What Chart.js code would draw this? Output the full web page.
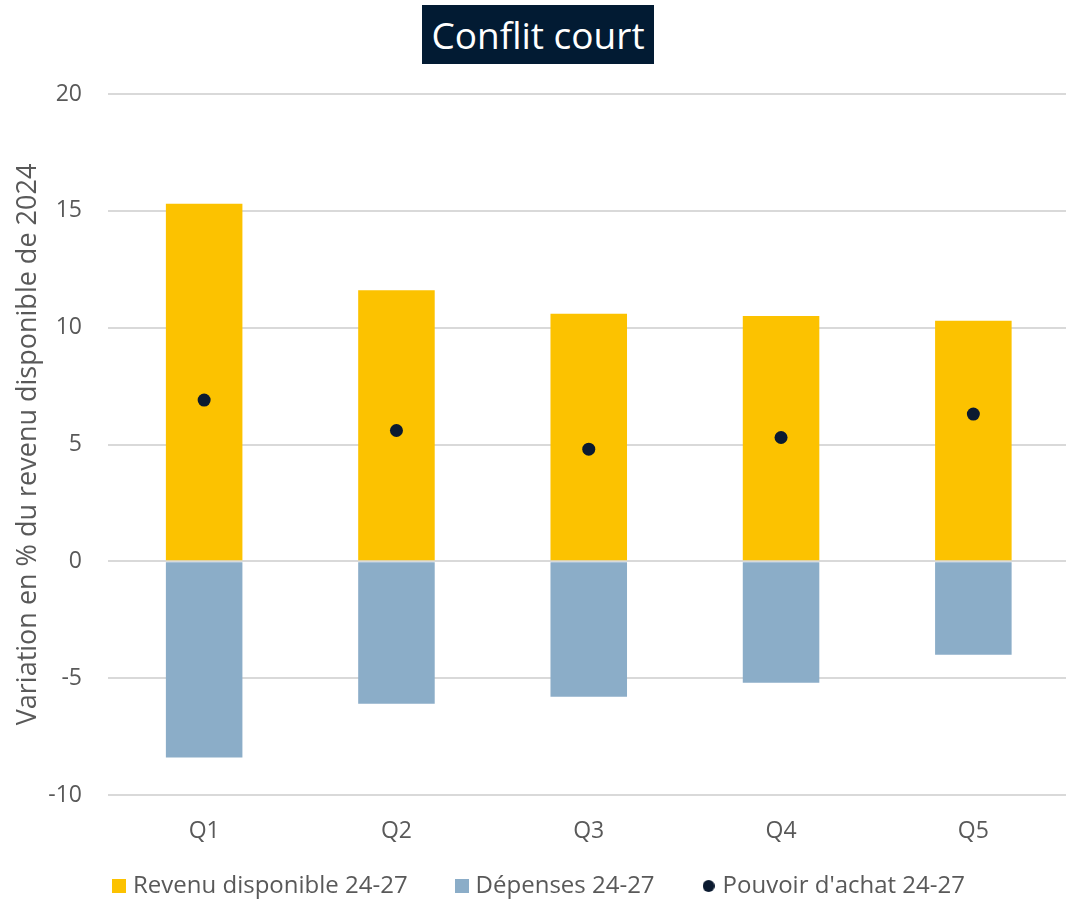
<!DOCTYPE html>
<html lang="fr">
<head>
<meta charset="utf-8">
<script src="https://cdn.jsdelivr.net/npm/chart.js@4/dist/chart.umd.min.js"></script>
<style>
  html, body { margin: 0; padding: 0; background: #ffffff; overflow: hidden; }
  /* the plot runs slightly past the right edge of the window */
  #wrap { position: relative; width: 1076px; height: 900px; }
  #title {
    position: absolute; left: 422px; top: 5px; width: 232px; height: 59px;
    background: #021b33; color: #ffffff;
    font-family: "Open Sans", sans-serif; font-size: 37px;
    line-height: 59px; text-align: center;
  }
  canvas { display: block; }
</style>
</head>
<body>
<div id="wrap">
  <canvas id="c" width="1076" height="900"></canvas>
  <div id="title">Conflit court</div>
</div>
<script>
// Quintiles de revenu
const categories = ["Q1", "Q2", "Q3", "Q4", "Q5"];
// Variation en % du revenu disponible de 2024
const revenuDisponible = [15.3, 11.6, 10.6, 10.5, 10.3];
const depenses = [-8.4, -6.1, -5.8, -5.2, -4.0];
const pouvoirAchat = [6.9, 5.6, 4.8, 5.3, 6.3];
const yTicks = [-10, -5, 0, 5, 10, 15, 20];

const textColor = "#595959";
const font = "'Open Sans', sans-serif";
const colRevenu = "#fcc200";
const colDepenses = "#8badc8";
const colPouvoir = "#0b1a30";

// Small legend markers: squares for bars, a dot for the points
function marker(color, shape, size) {
  const c = document.createElement("canvas");
  c.width = size; c.height = size;
  const g = c.getContext("2d");
  g.fillStyle = color;
  if (shape === "circle") {
    g.beginPath();
    g.arc(size / 2, size / 2, size / 2, 0, Math.PI * 2);
    g.fill();
  } else {
    g.fillRect(0, 0, size, size);
  }
  return c;
}
const legendMarkers = [
  marker(colRevenu, "rect", 14),
  marker(colDepenses, "rect", 14),
  marker(colPouvoir, "circle", 12)
];

// Give the category labels room below the short x-axis box,
// and centre the legend on the visible part of the page
const layoutTweaks = {
  id: "layoutTweaks",
  afterLayout(chart) {
    const x = chart.scales.x;
    x.bottom = x.top + 60;
    chart.legend.left -= 6;
    chart.legend.right -= 6;
  }
};

new Chart(document.getElementById("c"), {
  plugins: [layoutTweaks],
  data: {
    labels: categories,
    datasets: [
      {
        type: "bar",
        label: "Revenu disponible 24-27",
        data: revenuDisponible,
        backgroundColor: colRevenu,
        stack: "s",
        barPercentage: 0.796,
        categoryPercentage: 0.5,
        order: 1
      },
      {
        type: "bar",
        label: "Dépenses 24-27",
        data: depenses,
        backgroundColor: colDepenses,
        stack: "s",
        barPercentage: 0.796,
        categoryPercentage: 0.5,
        order: 1
      },
      {
        type: "line",
        label: "Pouvoir d'achat 24-27",
        data: pouvoirAchat,
        showLine: false,
        stack: "points",
        pointStyle: "circle",
        pointRadius: 6.5,
        pointHoverRadius: 6.5,
        backgroundColor: colPouvoir,
        borderColor: colPouvoir,
        borderWidth: 0,
        order: 0
      }
    ]
  },
  options: {
    responsive: false,
    animation: false,
    layout: { padding: { top: 94, left: 12, right: -6, bottom: -8 } },
    plugins: {
      tooltip: { enabled: false },
      legend: {
        position: "bottom",
        labels: {
          usePointStyle: true,
          boxWidth: 4,
          boxHeight: 14,
          padding: 52,
          color: textColor,
          font: { family: font, size: 24 },
          sort: (a, b) => a.datasetIndex - b.datasetIndex,
          generateLabels: (chart) => {
            const items = Chart.defaults.plugins.legend.labels.generateLabels(chart);
            items.forEach((it) => { it.pointStyle = legendMarkers[it.datasetIndex]; });
            return items;
          }
        }
      }
    },
    scales: {
      x: {
        stacked: true,
        grid: { display: false, drawTicks: false },
        border: { display: false },
        ticks: { color: textColor, font: { family: font, size: 23 }, padding: 23 },
        afterFit: (axis) => { axis.height = 27; }
      },
      y: {
        stacked: true,
        min: -10,
        max: 20,
        afterBuildTicks: (axis) => { axis.ticks = yTicks.map(v => ({ value: v })); },
        afterFit: (axis) => { axis.width = 96; },
        grid: { color: "#d9d9d9", lineWidth: 2, drawTicks: false },
        border: { display: false },
        ticks: { color: textColor, font: { family: font, size: 23 }, padding: 26 },
        title: {
          display: true,
          text: "Variation en % du revenu disponible de 2024",
          color: textColor,
          font: { family: font, size: 27 },
          padding: { top: 0, bottom: 3 }
        }
      }
    }
  }
});
</script>
</body>
</html>
